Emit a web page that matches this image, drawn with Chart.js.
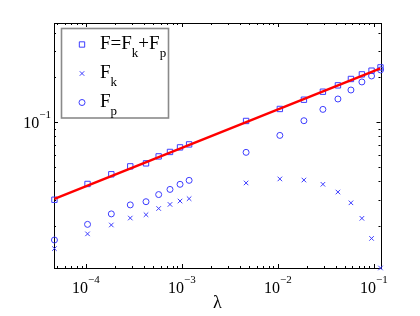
<!DOCTYPE html>
<html>
<head>
<meta charset="utf-8">
<script src="https://cdn.jsdelivr.net/npm/chart.js@4"></script>
<style>
  html, body { margin: 0; padding: 0; background: #fff; }
  canvas { display: block; }
</style>
</head>
<body>
<canvas id="chart" width="420" height="316"></canvas>
<script>
// lambda values (shared by all three series)
const lambdas = [4.7e-5, 1.04e-4, 1.84e-4, 2.90e-4, 4.23e-4, 5.73e-4, 7.52e-4, 9.57e-4, 1.19e-3,
  4.67e-3, 1.05e-2, 1.87e-2, 2.95e-2, 4.23e-2, 5.78e-2, 7.52e-2, 9.48e-2, 0.1175];
const fTotal = [0.0299, 0.0382, 0.0444, 0.0502, 0.0526, 0.0586, 0.0628, 0.0674, 0.0706,
  0.1016, 0.1224, 0.1413, 0.160, 0.1766, 0.195, 0.2094, 0.2218, 0.2334];
const fK = [0.0140, 0.0176, 0.0202, 0.0225, 0.0237, 0.0261, 0.0278, 0.0293, 0.0304,
  0.0388, 0.0413, 0.0406, 0.0380, 0.0337, 0.0285, 0.0224, 0.0164, 0.01036];
const fP = [0.0160, 0.0204, 0.0240, 0.0276, 0.0290, 0.0324, 0.0351, 0.0380, 0.0404,
  0.0624, 0.0812, 0.102, 0.1216, 0.1429, 0.1643, 0.1862, 0.2043, 0.2244];
// power-law fit, end points
const fitX = [4.7e-5, 0.1175];
const fitY = [0.0303, 0.2297];

const legendLabels = ["F=F_k+F_p", "F_k", "F_p"];
const xTickValues = [1e-4, 1e-3, 1e-2, 1e-1];
const yTickValues = [1e-1];
const xRange = [4.65e-5, 0.1175];
const yRange = [0.01036, 0.465];

const BLUE = "#3d3dff";
const SERIF = '"Liberation Serif", "Times New Roman", serif';

const pts = (xs, ys) => xs.map((x, i) => ({ x: x, y: ys[i] }));

// draws "10" with a raised exponent
function drawPow(ctx, exp, x, baseY, align) {
  ctx.font = "16px " + SERIF;
  const wBase = ctx.measureText("10").width;
  ctx.font = "11px " + SERIF;
  const expText = "\u2212" + exp;
  const wExp = ctx.measureText(expText).width;
  const total = wBase + wExp;
  let left = align === "right" ? x - total : x - total / 2;
  ctx.fillStyle = "#000";
  ctx.textAlign = "left";
  ctx.textBaseline = "alphabetic";
  ctx.font = "16px " + SERIF;
  ctx.fillText("10", left, baseY);
  ctx.font = "11px " + SERIF;
  ctx.fillText(expText, left + wBase, baseY - 10);
}

// text with single-char subscripts written as _k
function drawSub(ctx, text, x, y) {
  let cx = x;
  for (let i = 0; i < text.length; i++) {
    if (text[i] === "_" && i + 1 < text.length) {
      ctx.font = "13px " + SERIF;
      ctx.fillText(text[i + 1], cx, y + 8);
      cx += ctx.measureText(text[i + 1]).width;
      i++;
    } else {
      ctx.font = "19px " + SERIF;
      ctx.fillText(text[i], cx, y);
      cx += ctx.measureText(text[i]).width;
    }
  }
}

const axesPlugin = {
  id: "matlabAxes",
  beforeDatasetsDraw(chart) {
    const { ctx, chartArea: a, scales } = chart;
    const xs = scales.x, ys = scales.y;
    ctx.save();
    ctx.strokeStyle = "#000";
    ctx.lineWidth = 1;
    ctx.beginPath();
    // minor + major ticks, inward on all four sides
    for (let e = -5; e <= 0; e++) {
      for (let m = 1; m <= 9; m++) {
        const v = m * Math.pow(10, e);
        const len = m === 1 ? 4 : 2;
        if (v >= xRange[0] && v <= xRange[1]) {
          const px = Math.round(xs.getPixelForValue(v)) + 0.5;
          ctx.moveTo(px, a.bottom); ctx.lineTo(px, a.bottom - len);
          ctx.moveTo(px, a.top); ctx.lineTo(px, a.top + len);
        }
        if (v >= yRange[0] && v <= yRange[1]) {
          const py = Math.round(ys.getPixelForValue(v)) + 0.5;
          ctx.moveTo(a.left, py); ctx.lineTo(a.left + len, py);
          ctx.moveTo(a.right, py); ctx.lineTo(a.right - len, py);
        }
      }
    }
    ctx.stroke();
    ctx.strokeRect(Math.round(a.left) + 0.5, Math.round(a.top) + 0.5,
      Math.round(a.right - a.left), Math.round(a.bottom - a.top));
    ctx.restore();
  },
  afterDraw(chart) {
    const { ctx, chartArea: a, scales } = chart;
    ctx.save();
    xTickValues.forEach(v => drawPow(ctx, -Math.round(Math.log10(v)), scales.x.getPixelForValue(v), 293, "center"));
    yTickValues.forEach(v => drawPow(ctx, -Math.round(Math.log10(v)), 51, scales.y.getPixelForValue(v) + 6, "right"));
    ctx.font = "18px " + SERIF;
    ctx.textAlign = "center";
    ctx.fillText("\u03bb", (a.left + a.right) / 2, 308);

    // legend box
    ctx.fillStyle = "#fff";
    ctx.fillRect(61.5, 28.5, 107, 89.5);
    ctx.strokeStyle = "#8a8a8a";
    ctx.lineWidth = 1.6;
    ctx.strokeRect(61.5, 28.5, 107, 89.5);
    const rows = [44.5, 73.5, 102.5];
    chart.data.datasets.slice(0, 3).forEach((ds, i) => {
      ctx.fillStyle = "rgba(0,0,0,0)";
      ctx.strokeStyle = BLUE;
      ctx.lineWidth = 1;
      Chart.helpers.drawPoint(ctx, {
        pointStyle: ds.pointStyle, radius: ds.pointRadius, rotation: 0, borderWidth: 1
      }, 82, rows[i]);
      ctx.fillStyle = "#000";
      ctx.textAlign = "left";
      drawSub(ctx, legendLabels[i], 100, rows[i] + 4);
    });
    ctx.restore();
  }
};

const scatterSet = (label, data, style, r) => ({
  type: "scatter", label: label, data: data, showLine: false,
  pointStyle: style, pointRadius: r, pointBorderWidth: 1,
  borderColor: BLUE, backgroundColor: "rgba(0,0,0,0)", clip: false, order: 1
});

new Chart(document.getElementById("chart").getContext("2d"), {
  type: "scatter",
  data: {
    datasets: [
      scatterSet("F=F_k+F_p", pts(lambdas, fTotal), "rect", 3.8),
      scatterSet("F_k", pts(lambdas, fK), "crossRot", 3.2),
      scatterSet("F_p", pts(lambdas, fP), "circle", 3),
      {
        type: "line", label: "fit", data: pts(fitX, fitY),
        borderColor: "#ff0000", borderWidth: 2.5, pointRadius: 0, order: 0
      }
    ]
  },
  options: {
    responsive: false,
    animation: false,
    layout: { padding: { left: 54, top: 23, right: 39.5, bottom: 48 } },
    plugins: { legend: { display: false }, tooltip: { enabled: false } },
    scales: {
      x: { type: "logarithmic", min: xRange[0], max: xRange[1], display: false },
      y: { type: "logarithmic", min: yRange[0], max: yRange[1], display: false }
    }
  },
  plugins: [axesPlugin]
});
</script>
</body>
</html>
